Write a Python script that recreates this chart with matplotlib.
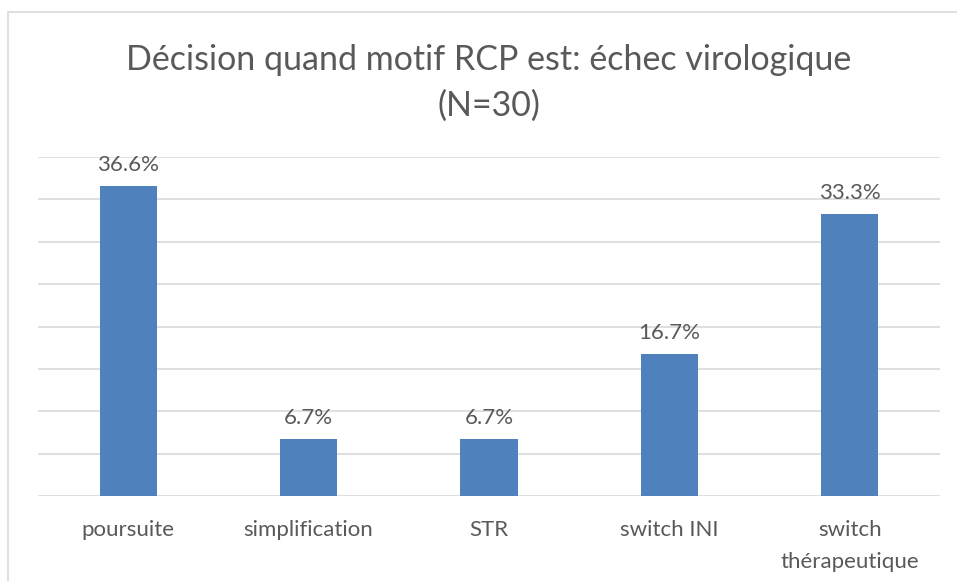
import matplotlib.pyplot as plt
from matplotlib.patches import Rectangle

categories = ['poursuite', 'simplification', 'STR', 'switch INI', 'switch\nthérapeutique']
values = [36.6, 6.7, 6.7, 16.7, 33.3]
labels = ['36.6%', '6.7%', '6.7%', '16.7%', '33.3%']

plt.rcParams['font.family'] = ['Lato', 'DejaVu Sans']
txt = '#595959'
grid = '#D9D9D9'

fig = plt.figure(figsize=(9.57, 5.81), dpi=100)
fig.patches.append(Rectangle((8 / 957, -0.1), 1.2, 1 - 12 / 581 + 0.1,
                             transform=fig.transFigure, fill=False,
                             edgecolor=grid, linewidth=1.2))

ax = fig.add_axes([38 / 957, 85 / 581, 902 / 957, 339 / 581])
x = range(len(categories))
ax.bar(x, values, width=0.317, color='#4F81BD', zorder=3)
for i, (v, lab) in enumerate(zip(values, labels)):
    ax.text(i, v + 1.3, lab, ha='center', va='bottom', fontsize=16, color=txt)

ax.set_xlim(-0.5, len(categories) - 0.5)
ax.set_ylim(0, 40)
ax.set_yticks(range(0, 41, 5))
ax.set_yticklabels([])
ax.tick_params(axis='y', length=0)
ax.tick_params(axis='x', length=0, pad=17, labelsize=16, labelcolor=txt)
ax.set_xticks(list(x))
ax.set_xticklabels(categories, linespacing=1.75, va='top')
ax.grid(axis='y', color=grid, linewidth=1.2, zorder=0)
for s in ax.spines.values():
    s.set_visible(False)

fig.text(489 / 957, 1 - 60 / 581, 'Décision quand motif RCP est: échec virologique',
         ha='center', va='center', fontsize=24.5, color=txt)
fig.text(489 / 957, 1 - 106 / 581, '(N=30)', ha='center', va='center', fontsize=24.5, color=txt)

fig.savefig('out.png', dpi=100)
